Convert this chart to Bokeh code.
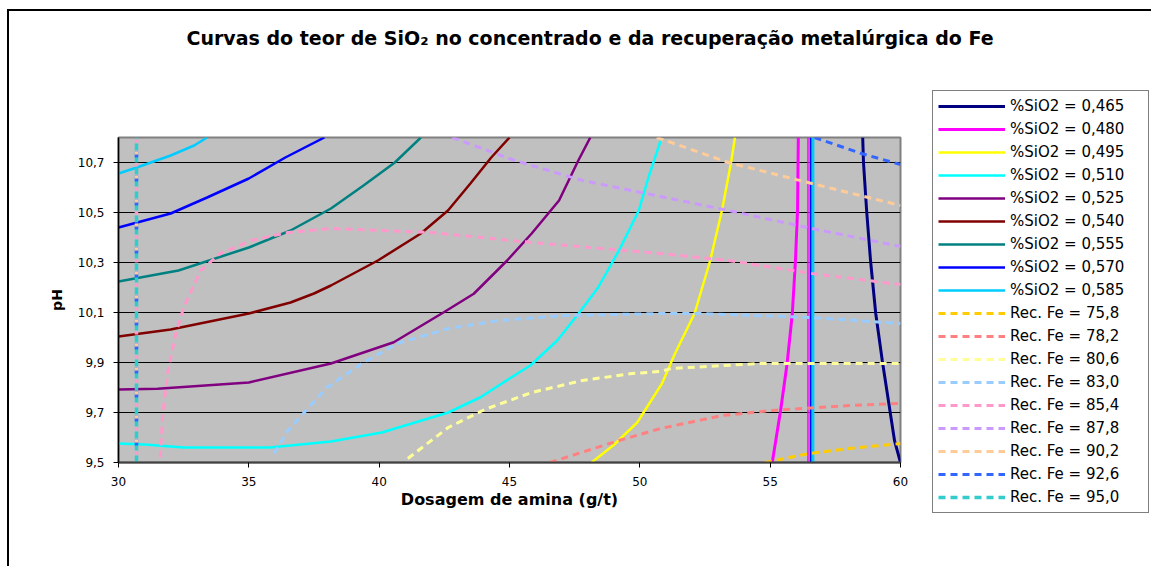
from bokeh.plotting import figure
from bokeh.models import Legend, LegendItem, FixedTicker, CustomJSTickFormatter, Range1d, Title
from bokeh.embed import file_html
from bokeh.resources import INLINE

# ---------------- data ----------------
x_ticks = [30, 35, 40, 45, 50, 55, 60]
y_ticks = [9.5, 9.7, 9.9, 10.1, 10.3, 10.5, 10.7]

title_text = "Curvas do teor de SiO\u2082 no concentrado e da recuperação metalúrgica do Fe"
x_label = "Dosagem de amina (g/t)"
y_label = "pH"

sio2_labels = ["%SiO2 = 0,465", "%SiO2 = 0,480", "%SiO2 = 0,495", "%SiO2 = 0,510",
               "%SiO2 = 0,525", "%SiO2 = 0,540", "%SiO2 = 0,555", "%SiO2 = 0,570",
               "%SiO2 = 0,585"]
rec_labels = ["Rec. Fe = 75,8", "Rec. Fe = 78,2", "Rec. Fe = 80,6", "Rec. Fe = 83,0",
              "Rec. Fe = 85,4", "Rec. Fe = 87,8", "Rec. Fe = 90,2", "Rec. Fe = 92,6",
              "Rec. Fe = 95,0"]

# %SiO2 iso-curves (x = amine dosage g/t, y = pH)
sio2_465_x = [60.0, 59.77, 59.3, 59.05, 58.85, 58.7, 58.58, 58.55]
sio2_465_y = [9.5, 9.588, 9.908, 10.096, 10.308, 10.508, 10.7, 10.8]
sio2_480_x = [55.08, 55.4, 55.65, 55.85, 55.97, 56.05, 56.08]
sio2_480_y = [9.5, 9.708, 9.896, 10.096, 10.308, 10.508, 10.8]
sio2_495_x = [48.15, 49.0, 49.9, 50.85, 51.35, 52.1, 52.7, 53.15, 53.5, 53.65]
sio2_495_y = [9.5, 9.57, 9.66, 9.816, 9.936, 10.096, 10.308, 10.508, 10.7, 10.8]
sio2_510_x = [30.0, 31.0, 32.5, 35.8, 38.15, 40.1, 42.65, 43.89, 45.29, 45.8, 46.83,
              47.66, 48.4, 49.2, 49.96, 50.33, 50.8]
sio2_510_y = [9.576, 9.572, 9.56, 9.56, 9.584, 9.62, 9.7, 9.761, 9.855, 9.888, 9.988,
              10.097, 10.2, 10.348, 10.508, 10.64, 10.788]
sio2_525_x = [30.0, 31.5, 35.0, 38.15, 40.56, 42.48, 43.63, 44.91, 45.85, 46.9, 47.64, 48.1]
sio2_525_y = [9.792, 9.795, 9.82, 9.896, 9.981, 10.101, 10.175, 10.308, 10.416, 10.548, 10.708, 10.8]
sio2_540_x = [30.0, 32.0, 35.0, 36.6, 37.5, 38.15, 39.95, 41.6, 42.64, 43.5, 44.3, 45.0]
sio2_540_y = [10.004, 10.032, 10.096, 10.14, 10.176, 10.208, 10.308, 10.416, 10.508, 10.616, 10.72, 10.8]
sio2_555_x = [30.0, 32.3, 35.0, 36.6, 38.15, 39.4, 40.6, 41.6]
sio2_555_y = [10.224, 10.268, 10.36, 10.428, 10.516, 10.608, 10.7, 10.8]
sio2_570_x = [30.0, 32.0, 33.4, 35.0, 36.4, 37.9]
sio2_570_y = [10.44, 10.496, 10.56, 10.636, 10.72, 10.8]
sio2_585_x = [30.0, 30.7, 32.0, 32.9, 33.4]
sio2_585_y = [10.656, 10.68, 10.728, 10.768, 10.8]

# Rec. Fe iso-curves
rec_758_x = [54.8, 56.5, 58.04, 60.0]
rec_758_y = [9.5, 9.536, 9.556, 9.576]
rec_782_x = [46.55, 49.2, 50.8, 53.15, 55.08, 58.04, 60.0]
rec_782_y = [9.5, 9.588, 9.636, 9.688, 9.708, 9.728, 9.736]
rec_806_x = [41.1, 41.6, 42.1, 42.65, 44.05, 45.85, 47.8, 49.7, 50.8, 51.2, 54.6, 60.0]
rec_806_y = [9.516, 9.556, 9.596, 9.64, 9.712, 9.78, 9.828, 9.856, 9.864, 9.876, 9.896, 9.896]
rec_830_x = [35.97, 36.5, 37.3, 38.0, 39.4, 40.7, 42.65, 44.6, 47.1, 50.8, 52.3, 56.6, 60.0]
rec_830_y = [9.536, 9.628, 9.72, 9.8, 9.9, 9.976, 10.036, 10.068, 10.088, 10.096, 10.096, 10.08, 10.056]
rec_854_x = [31.6, 31.7, 31.9, 32.2, 32.5, 33.15, 33.9, 35.1, 36.5, 38.15, 42.0, 45.85, 50.8, 53.4, 56.6, 60.0]
rec_854_y = [9.52, 9.696, 9.868, 10.016, 10.12, 10.268, 10.336, 10.388, 10.42, 10.436, 10.42, 10.38, 10.336, 10.308, 10.256, 10.212]
rec_878_x = [42.8, 45.2, 47.8, 50.8, 53.4, 56.6, 60.0]
rec_878_y = [10.8, 10.708, 10.628, 10.564, 10.508, 10.436, 10.364]
rec_902_x = [50.65, 53.4, 56.6, 60.0]
rec_902_y = [10.8, 10.7, 10.616, 10.528]
rec_926_x = [56.7, 58.5, 60.0]
rec_926_y = [10.8, 10.736, 10.692]
rec_950_x = [30.69, 30.69]
rec_950_y = [9.5, 10.8]

# vertical artefact segments of the contour series (x position, series index)
sio2_vert_x = [56.45, 56.6, 56.55]
sio2_vert_series = [1, 8, 7]
rec_vert_x = [30.69, 30.69, 30.69]
rec_vert_series = [7, 6, 4]
vert_y = [9.5, 10.8]

sio2_xs = [sio2_465_x, sio2_480_x, sio2_495_x, sio2_510_x, sio2_525_x,
           sio2_540_x, sio2_555_x, sio2_570_x, sio2_585_x]
sio2_ys = [sio2_465_y, sio2_480_y, sio2_495_y, sio2_510_y, sio2_525_y,
           sio2_540_y, sio2_555_y, sio2_570_y, sio2_585_y]
rec_xs = [rec_758_x, rec_782_x, rec_806_x, rec_830_x, rec_854_x,
          rec_878_x, rec_902_x, rec_926_x, rec_950_x]
rec_ys = [rec_758_y, rec_782_y, rec_806_y, rec_830_y, rec_854_y,
          rec_878_y, rec_902_y, rec_926_y, rec_950_y]

# ---------------- styles ----------------
sio2_colors = ["#000080", "#FF00FF", "#FFFF00", "#00FFFF", "#800080",
               "#800000", "#008080", "#0000FF", "#00CCFF"]
sio2_widths = [3, 3, 2.5, 2.5, 2.5, 2.5, 2.5, 2.5, 2.5]
rec_colors = ["#FFCC00", "#FF8080", "#FFFF99", "#99CCFF", "#FF99CC",
              "#CC99FF", "#FFCC99", "#3366FF", "#33CCCC"]

FONT = "DejaVu Sans"

p = figure(frame_width=782, frame_height=325,
           x_range=Range1d(30, 60), y_range=Range1d(9.5, 10.8),
           output_backend="svg", toolbar_location=None,
           min_border_left=118, min_border_right=251,
           min_border_top=137, min_border_bottom=104)
p.background_fill_color = "#C0C0C0"
p.border_fill_alpha = 0
p.outline_line_color = "#808080"
p.outline_line_width = 2
# outer chart-area frame (left and top edges visible in the window)
p.styles = {
    "background-color": "white",
    "background-image": "linear-gradient(black, black), linear-gradient(black, black)",
    "background-size": "2px 100%, 100% 2px",
    "background-position": "7px 9px, 7px 9px",
    "background-repeat": "no-repeat",
}

# title (spacer pushes it up to the top of the chart area)
spacer = Title(text=" ", standoff=71, text_font_size="14px")
p.add_layout(spacer, "above")
p.title.text = title_text
p.title.align = "left"
p.title.offset = 68
p.title.standoff = 0
p.title.text_font = FONT
p.title.text_font_style = "bold"
p.title.text_font_size = "19px"
p.title.text_color = "black"

# grid
p.xgrid.grid_line_color = None
p.ygrid.grid_line_color = "black"
p.ygrid.grid_line_width = 1.2

# axes
p.xaxis.ticker = FixedTicker(ticks=x_ticks)
p.yaxis.ticker = FixedTicker(ticks=y_ticks)
p.yaxis.formatter = CustomJSTickFormatter(code="return tick.toFixed(1).replace('.', ',');")
for ax in (p.xaxis[0], p.yaxis[0]):
    ax.minor_tick_line_color = None
    ax.major_tick_in = 0
    ax.major_tick_out = 5
    ax.major_tick_line_color = "black"
    ax.axis_line_color = "black"
    ax.major_label_text_font = FONT
    ax.major_label_text_font_size = "12px"
    ax.major_label_text_color = "black"
    ax.axis_label_text_font = FONT
    ax.axis_label_text_font_style = "bold"
    ax.axis_label_text_color = "black"
p.xaxis.axis_line_color = "#404040"
p.xaxis.axis_line_width = 2
p.yaxis.axis_line_width = 1.5
p.xaxis.axis_label = x_label
p.xaxis.axis_label_text_font_size = "16px"
p.xaxis.major_label_standoff = 9
p.xaxis.axis_label_standoff = 1
p.yaxis.axis_label = y_label
p.yaxis.axis_label_text_font_size = "14px"
p.yaxis.major_label_standoff = 9
p.yaxis.axis_label_standoff = 10

# curves
sio2_renderers = []
for i in range(len(sio2_xs)):
    r = p.line(sio2_xs[i], sio2_ys[i], line_color=sio2_colors[i], line_width=sio2_widths[i])
    sio2_renderers.append(r)
vert_widths = {1: 1.5, 8: 5, 7: 1.5}
for vx, si in zip(sio2_vert_x, sio2_vert_series):
    p.line([vx, vx], vert_y, line_color=sio2_colors[si], line_width=vert_widths[si])

rec_renderers = []
for i in range(len(rec_xs)):
    w = 3.5 if i == 8 else 3
    r = p.line(rec_xs[i], rec_ys[i], line_color=rec_colors[i], line_width=w,
               line_dash="7 5")
    rec_renderers.append(r)
dash_specs = {7: ("6 18", 7), 6: ("3 21", 4), 4: ("3 21", 16)}
for vx, si in zip(rec_vert_x, rec_vert_series):
    dash, off = dash_specs[si]
    p.line([vx, vx], vert_y, line_color=rec_colors[si], line_width=3.5,
           line_dash=dash, line_dash_offset=off)

items = []
for r, lab in zip(sio2_renderers, sio2_labels):
    items.append(LegendItem(label=lab, renderers=[r]))
for r, lab in zip(rec_renderers, rec_labels):
    items.append(LegendItem(label=lab, renderers=[r]))

legend = Legend(items=items, location=(32, -51))
legend.label_text_font = FONT
legend.label_text_font_size = "15px"
legend.label_text_color = "black"
legend.glyph_width = 67
legend.glyph_height = 20
legend.label_height = 20
legend.label_width = 133
legend.spacing = 3
legend.padding = 5
legend.margin = 0
legend.label_standoff = 5
legend.border_line_color = "black"
legend.border_line_width = 1.5
legend.background_fill_color = "white"
legend.background_fill_alpha = 1
p.add_layout(legend, "right")

open("out.html", "w").write(file_html(p, INLINE))
